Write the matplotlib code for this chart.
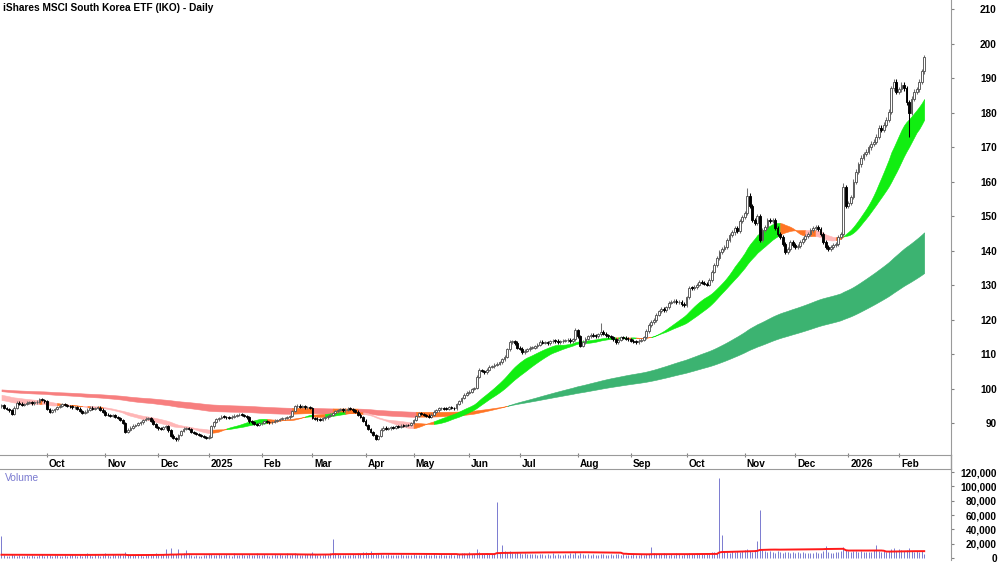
import numpy as np
import pandas as pd
import matplotlib
matplotlib.use("Agg")
import matplotlib.pyplot as plt
from matplotlib.transforms import ScaledTranslation
from matplotlib.lines import Line2D

plt.rcParams['font.family'] = ['Liberation Sans', 'DejaVu Sans']

title = "iShares MSCI South Korea ETF (IKO) - Daily"
start_date = "2024-09-05"
asx_holidays = ["2024-12-25", "2024-12-26", "2025-01-01", "2025-01-27", "2025-04-18",
                "2025-04-21", "2025-04-25", "2025-06-09", "2025-12-25", "2025-12-26",
                "2026-01-01", "2026-01-26"]

close = [
    95.4, 94.5, 94.2, 93.8, 92.8, 94.6, 96.0, 95.7, 95.4, 95.6,
    96.0, 96.2, 95.8, 96.1, 96.3, 97.0, 96.8, 96.4, 94.2, 93.3,
    93.8, 94.2, 94.8, 95.2, 95.6, 95.4, 95.1, 95.0, 94.7,
    94.8, 94.3, 93.6, 93.0, 93.4, 94.0, 94.6, 94.2, 94.5, 94.6,
    94.0, 93.4, 92.6, 92.4, 92.2, 92.5, 91.9, 91.6, 91.0, 90.2,
    87.5, 88.2, 88.8, 89.4, 89.6, 90.0, 90.3, 91.0, 91.4, 91.6,
    90.8, 89.8, 89.0, 88.6, 88.4, 88.9, 89.2, 88.0, 86.5, 85.8,
    85.4, 86.6, 87.8, 88.5, 88.7, 88.4, 87.6, 87.2, 86.9,
    86.7, 86.4, 86.1, 85.9, 86.2, 89.2, 90.5, 91.2, 91.6, 92.0,
    91.9, 91.8, 91.6, 92.0, 92.3, 92.4, 92.6, 92.5, 92.2, 91.8,
    90.6, 90.3, 89.8, 89.7, 90.0, 90.2, 90.6, 90.4, 90.3, 90.5,
    90.8, 91.0, 91.3, 91.5, 91.6, 91.8, 92.2, 93.6, 95.0,
    95.2, 94.9, 95.0, 94.7, 94.8, 94.5, 91.6, 91.4, 91.2, 91.0,
    91.5, 91.8, 92.2, 92.6, 93.0, 93.5, 93.9, 94.1, 93.8, 94.0,
    94.3, 94.2, 93.8, 93.4, 92.6, 91.9, 90.8, 89.6, 88.4,
    87.6, 86.6, 85.5, 86.4, 88.2, 88.8, 88.4, 88.6, 89.0, 88.8,
    89.2, 89.0, 89.4, 89.3, 89.6, 89.5, 90.2, 91.0, 92.2, 93.0,
    92.8, 92.5, 92.3, 92.0, 92.6, 93.4, 93.8, 94.4, 94.5, 94.3,
    94.2, 94.8, 94.5, 94.4, 95.6, 96.4, 97.4, 98.3, 98.9,
    99.2, 100.0, 100.3, 103.5, 105.5, 105.2, 104.8, 105.6, 106.4, 106.6,
    107.0, 107.3, 107.8, 108.6, 109.3, 111.5, 113.6, 113.8, 113.3, 112.0,
    111.6, 110.7, 111.0, 111.5, 111.9, 112.0, 112.4, 112.8, 113.6, 113.4,
    113.5, 113.2, 113.8, 114.0, 113.9, 113.6, 113.8, 114.0, 114.1,
    114.2, 113.8, 114.4, 117.0, 115.2, 112.5, 113.6, 114.5, 115.2, 115.6,
    115.4, 115.3, 115.8, 116.5, 116.0, 115.5, 115.2, 115.0, 114.4, 113.6,
    114.2, 115.0, 114.8, 114.5, 114.4, 114.0, 113.7, 113.6, 114.0,
    114.3, 115.0, 116.8, 118.5, 119.4, 120.0, 121.5, 122.5, 123.2, 122.9,
    123.6, 125.0, 125.3, 125.5, 125.1, 125.2, 124.6, 124.3, 126.5, 129.3,
    129.2, 129.5, 130.2, 131.0, 130.8, 130.5, 130.2, 131.6, 134.0,
    136.0, 138.0, 139.6, 140.5, 141.2, 143.0, 144.5, 145.3, 146.7, 145.8,
    148.5, 149.8, 151.0, 156.0, 153.0, 149.0, 148.0, 150.0, 143.0, 146.0,
    147.0, 149.0, 148.5, 148.8, 146.5, 145.0, 144.0, 142.0, 139.7, 140.5,
    142.5, 141.8, 141.0, 141.5, 142.6, 143.4, 144.2, 145.0, 146.0,
    146.6, 147.0, 146.2, 145.0, 142.5, 141.0, 140.5, 141.2, 141.7, 142.0,
    144.0, 145.0, 158.5, 153.0, 153.8, 155.6, 160.0, 162.9, 165.0, 167.0,
    168.0, 168.7, 170.0, 171.0, 171.6, 173.0, 175.6, 175.0, 176.5,
    178.0, 180.3, 187.0, 189.0, 186.0, 186.7, 188.0, 187.0, 183.0, 180.0,
    184.0, 186.0, 186.7, 189.0, 192.0, 196.0,
]
first_open = 95.0
extreme_high = {227: 117.6, 237: 119.0, 295: 158.2, 333: 159.7}
extreme_low = {359: 173.0}

volume = [
    31000, 4200, 3100, 2800, 5200, 3600, 2400, 4100, 3300, 2900, 3800, 2600, 4500, 3200, 2700, 3900, 5400, 3000, 4800, 3500,
    2900, 4100, 3600, 2500, 3300, 4700, 2800, 3900, 5600, 4300, 2700, 3600, 3000, 4400, 6800, 3900, 3200, 5100, 4000,
    3400, 4600, 7200, 3800, 3100, 5900, 4200, 3600, 6100, 4700, 8200, 5300, 3900, 4800, 3500, 6200, 4100, 3300, 5000, 4400,
    3800, 4900, 6400, 4300, 3700, 5200, 12500, 4600, 14000, 5800, 6200, 13000, 4900, 6600, 11800, 5100, 3600, 2900, 4200,
    3300, 2600, 4800, 3900, 5500, 6100, 4700, 3800, 5200, 4400, 3600, 5900, 4100, 3400, 6300, 4800, 3900, 5400, 4500, 3700,
    5000, 4200, 3500, 6600, 4800, 3900, 5300, 4100, 3400, 4700, 5800, 3600, 5100, 3800, 4600, 6900, 4000, 5500, 7400,
    5200, 4400, 3700, 6100, 4900, 5600, 8800, 5300, 4500, 3900, 4800, 5700, 4200, 6400, 27000, 7300, 5100, 4300, 3800, 4600,
    3900, 4700, 5200, 4100, 6300, 5400, 7800, 8900, 6700, 9200, 7100, 5900, 6600, 5200, 4500, 3800, 4900, 4200, 3600,
    4400, 3700, 5100, 4300, 3600, 4800, 4000, 5600, 4700, 3900, 4500, 3800, 5200, 4100, 3500, 6700, 4600, 3900, 5300, 4200,
    3800, 4100, 5700, 4400, 6200, 5100, 7300, 6400, 5500, 7900, 6200, 5400, 12600, 8800, 6900, 5600, 7400, 6100, 5300,
    6800, 78000, 7200, 18500, 9100, 8300, 9900, 7600, 6500, 8200, 7100, 5900, 6800, 5400, 6200, 4900, 5700, 4600, 5300, 6100,
    4800, 5500, 4300, 6400, 4400, 5800, 4700, 3900, 5200, 4600, 6900, 5300, 7800, 4700, 6500, 5600, 4500, 5100, 4200,
    5900, 4800, 4100, 5400, 6200, 4600, 3900, 5100, 4300, 5700, 4900, 4200, 5500, 4700, 3800, 4400, 5900, 4800, 4100,
    5300, 4600, 6100, 5200, 15200, 6600, 5800, 4900, 5400, 6300, 5100, 4500, 5700, 4800, 6400, 5300, 4700, 5900, 5200, 6800,
    5600, 6200, 7300, 5900, 6600, 5400, 6300, 5700, 7900, 8600, 7400, 111000, 32000, 9800, 8700, 7600, 9200, 8100, 10400,
    8900, 9600, 10800, 12100, 9400, 8600, 11200, 24000, 67000, 11800, 9800, 8900, 10100, 8400, 7600, 9300, 8200, 7400, 8800, 7900,
    7100, 8300, 6900, 7800, 6600, 8500, 6800, 7600, 6400, 7200, 8100, 6700, 7500, 9400, 17000, 8600, 7400, 6500, 7800,
    8400, 9100, 15000, 11200, 9600, 8800, 10300, 9200, 8500, 9700, 8700, 7800, 9000, 8200, 10600, 18000, 9800, 8600, 9300,
    8800, 10200, 12800, 14600, 9900, 12000, 10500, 9400, 11600, 13800, 10200, 8700, 9500, 7800, 10000, 6200,
]
volume_prior_avg = 4000
volume_ma_days = 50

# short band: simple moving averages (period, level before the chart starts)
short_fast = (20, 96.87)
short_slow = (30, 98.4)
# long band: exponential moving averages (period, value at the left edge)
long_fast = (150, 99.4)
long_slow = (240, 99.9)

price_ticks = list(range(90, 211, 10))
volume_ticks = list(range(0, 120001, 20000))

# ---------------------------------------------------------------
n = len(close)
bday = pd.offsets.CustomBusinessDay(holidays=asx_holidays)
dates = pd.date_range(start_date, periods=n, freq=bday)
x = np.arange(n)
c = np.array(close, dtype=float)
o = np.r_[first_open, c[:-1]]


def ema(values, period, init):
    a = 2.0 / (period + 1)
    e = init
    out = []
    for v in values:
        e = e + a * (v - e)
        out.append(e)
    return np.array(out)


def sma(values, period, prior):
    s = pd.Series([prior] * (period - 1) + list(values))
    return s.rolling(period).mean().to_numpy()[period - 1:]


sf = sma(c, *short_fast)
ss = sma(c, *short_slow)
lf = ema(c, *long_fast)
ls = ema(c, *long_slow)

SHORT_UP, SHORT_DOWN = '#11ee11', '#ffb6b6'
LONG_UP, LONG_DOWN = '#3cb371', '#f77f7f'
MIXED = '#ff7424'


def band_colors(fast, slow, up, down):
    df_ = np.diff(fast, prepend=fast[0])
    ds_ = np.diff(slow, prepend=slow[0])
    cols = []
    for f, s, df, ds in zip(fast, slow, df_, ds_):
        if f > s and df > 0 and ds > 0:
            cols.append(up)
        elif f < s and df <= 0 and ds <= 0:
            cols.append(down)
        else:
            cols.append(MIXED)
    return cols


def fill_band(ax, fast, slow, cols, z):
    lo = np.minimum(fast, slow)
    hi = np.maximum(fast, slow)
    start = 0
    for i in range(1, n + 1):
        if i == n or cols[i] != cols[start]:
            end = min(i + 1, n)
            ax.fill_between(x[start:end], lo[start:end], hi[start:end],
                            color=cols[start], lw=0.4, edgecolor=cols[start], zorder=z)
            start = i


fig = plt.figure(figsize=(10, 5.62), dpi=100)
ax = fig.add_axes([0, 1 - 455 / 562, 951 / 1000, 455 / 562])
axv = fig.add_axes([0, 1 - 560 / 562, 951 / 1000, 91 / 562])

xlim = (-0.59, 375.6)
ax.set_xlim(*xlim)
axv.set_xlim(*xlim)
ax.set_ylim(80.88, 212.6)

fill_band(ax, lf, ls, band_colors(lf, ls, LONG_UP, LONG_DOWN), 1)
fill_band(ax, sf, ss, band_colors(sf, ss, SHORT_UP, SHORT_DOWN), 2)

# candles
wick = 0.004 * c
hi = np.maximum(o, c) + wick
lo = np.minimum(o, c) - wick
for k, v in extreme_high.items():
    hi[k] = v
for k, v in extreme_low.items():
    lo[k] = v
up = c >= o
ax.vlines(x[up], lo[up], hi[up], color='#707070', lw=0.75, zorder=3)
ax.vlines(x[~up], lo[~up], hi[~up], color='black', lw=0.75, zorder=3)
body = np.maximum(np.abs(c - o), 0.2)
bottom = np.minimum(o, c)
ax.bar(x[up], body[up], bottom=bottom[up], width=0.72, facecolor='white',
       edgecolor='#555555', lw=0.65, zorder=4)
ax.bar(x[~up], body[~up], bottom=bottom[~up], width=0.72, facecolor='black',
       edgecolor='black', lw=0.65, zorder=4)

GRAY = '#9a9a9a'
for a in (ax, axv):
    a.spines['left'].set_visible(False)
    a.spines['right'].set_color(GRAY)
ax.spines['top'].set_visible(False)
ax.spines['bottom'].set_color(GRAY)
axv.spines['bottom'].set_visible(False)
axv.spines['top'].set_color(GRAY)

# month ticks
tick_pos, tick_lab = [], []
for i in range(1, n):
    if dates[i].month != dates[i - 1].month:
        tick_pos.append(i)
        tick_lab.append(str(dates[i].year) if dates[i].month == 1 else dates[i].strftime('%b'))
ax.set_xticks(tick_pos)
ax.set_xticklabels(tick_lab, ha='left', fontweight='bold', fontsize=7.2)
ax.tick_params(axis='x', direction='inout', length=3, width=0.8, color='#808080', pad=1.5)
offset = ScaledTranslation(2 / 100, 0, fig.dpi_scale_trans)
for lab in ax.get_xticklabels():
    lab.set_transform(lab.get_transform() + offset)

ax.yaxis.tick_right()
ax.set_yticks(price_ticks)
ax.set_yticklabels([str(t) for t in price_ticks], ha='right', fontweight='bold', fontsize=7.2)
ax.tick_params(axis='y', direction='out', length=2.5, width=0.8, color='#808080', pad=30.5)

# volume panel
VOL = '#7a7ad0'
axv.vlines(x, 0, volume, color=VOL, lw=0.7, zorder=2)
padded = pd.Series([volume_prior_avg] * (volume_ma_days - 1) + list(volume))
vma = padded.rolling(volume_ma_days).mean().to_numpy()[volume_ma_days - 1:]
axv.plot(x, vma, color='#ff1a1a', lw=1.4, zorder=3)
axv.set_ylim(-2800, 124200)
axv.set_xticks([])
axv.yaxis.tick_right()
axv.set_yticks(volume_ticks)
axv.set_yticklabels([f"{v:,}" for v in volume_ticks], ha='right', fontweight='bold', fontsize=7.2)
axv.tick_params(axis='y', direction='out', length=2.5, width=0.8, color='#808080', pad=30.5)

fig.add_artist(Line2D([951 / 1000, 951 / 1000], [1 - 469 / 562, 1 - 455 / 562],
                      color=GRAY, lw=1, transform=fig.transFigure))

fig.text(3 / 1000, 1 - 8 / 562, title, fontsize=7.3, fontweight='bold', va='center', ha='left')
fig.text(5 / 1000, 1 - 478 / 562, 'Volume', fontsize=7.4, color=VOL, va='center', ha='left')

fig.savefig('out.png', dpi=100)
